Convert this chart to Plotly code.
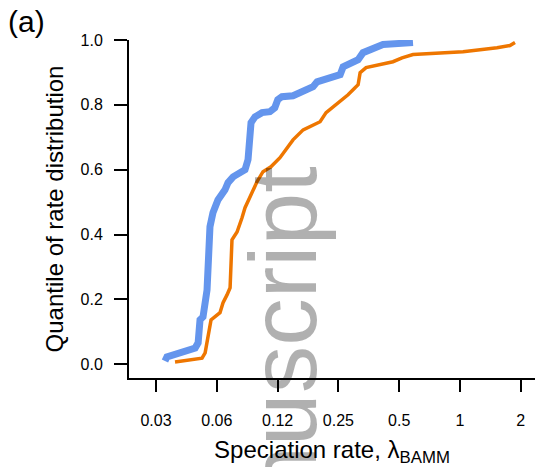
import plotly.graph_objects as go

# Blue series (speciation rate vs quantile)
blue_rate = [0.0346, 0.0354, 0.0488, 0.0505, 0.0516, 0.0534, 0.0559, 0.0565, 0.0578, 0.0598,
             0.0633, 0.0686, 0.0710, 0.0752, 0.0814, 0.0862, 0.0892, 0.0913, 0.0923, 0.0966,
             0.1046, 0.1144, 0.1210, 0.1252, 0.1313, 0.1490, 0.1615, 0.1873, 0.1960, 0.2550,
             0.2637, 0.2921, 0.3130, 0.3309, 0.3710, 0.4157, 0.5852]
blue_q = [0.010, 0.023, 0.050, 0.066, 0.137, 0.146, 0.229, 0.313, 0.424, 0.467,
          0.507, 0.538, 0.560, 0.578, 0.590, 0.600, 0.631, 0.692, 0.745, 0.763,
          0.776, 0.779, 0.791, 0.816, 0.825, 0.828, 0.840, 0.856, 0.871, 0.893,
          0.917, 0.930, 0.939, 0.961, 0.976, 0.986, 0.992]

# Orange series
orange_rate = [0.0388, 0.0528, 0.0547, 0.0565, 0.0585, 0.0648, 0.0671, 0.0702, 0.0727, 0.0743,
               0.0787, 0.0833, 0.0862, 0.0923, 0.0966, 0.0988, 0.1058, 0.1158, 0.1284, 0.1391,
               0.1490, 0.1672, 0.2029, 0.2172, 0.2495, 0.2790, 0.3022, 0.3130, 0.3202, 0.3426,
               0.4658, 0.5164, 0.5852, 1.035, 1.525, 1.768, 1.872]
orange_q = [0.007, 0.019, 0.035, 0.090, 0.137, 0.159, 0.190, 0.214, 0.236, 0.384,
            0.408, 0.452, 0.483, 0.523, 0.554, 0.563, 0.594, 0.609, 0.637, 0.668,
            0.692, 0.723, 0.748, 0.776, 0.807, 0.831, 0.853, 0.862, 0.899, 0.915,
            0.933, 0.945, 0.955, 0.964, 0.976, 0.983, 0.992]

x_tickvals = [2 ** k for k in range(-5, 2)]
x_ticktext = ["0.03", "0.06", "0.12", "0.25", "0.5", "1", "2"]
y_tickvals = [0.0, 0.2, 0.4, 0.6, 0.8, 1.0]
y_ticktext = ["0.0", "0.2", "0.4", "0.6", "0.8", "1.0"]

FONT = "Liberation Sans, Arial, Helvetica, sans-serif"

fig = go.Figure()
fig.add_trace(go.Scatter(x=orange_rate, y=orange_q, mode="lines",
                         line=dict(color="#EE7600", width=3.5), showlegend=False))
fig.add_trace(go.Scatter(x=blue_rate, y=blue_q, mode="lines",
                         line=dict(color="#6495ED", width=7), showlegend=False))

fig.update_layout(
    width=535, height=467,
    margin=dict(l=129, r=0, t=40, b=89, autoexpand=False),
    plot_bgcolor="white", paper_bgcolor="white",
    font=dict(family=FONT, color="black", size=16),
    xaxis=dict(type="log", range=[-1.639, 0.3714],
               tickvals=x_tickvals, ticktext=x_ticktext,
               ticks="outside", ticklen=12, tickwidth=1.5, tickcolor="black",
               showline=True, linecolor="black", linewidth=2,
               showgrid=False, zeroline=False,
               tickfont=dict(size=16), ticklabelstandoff=15,
               title=dict(text="Speciation rate, λ<sub>BAMM</sub>",
                          font=dict(size=24), standoff=14)),
    yaxis=dict(range=[-0.0423, 1.0],
               tickvals=y_tickvals, ticktext=y_ticktext,
               ticks="outside", ticklen=13, tickwidth=1.5, tickcolor="black",
               showline=True, linecolor="black", linewidth=2,
               showgrid=False, zeroline=False,
               tickfont=dict(size=16), ticklabelstandoff=8,
               title=dict(text="Quantile of rate distribution",
                          font=dict(size=24), standoff=10)),
    annotations=[
        dict(text="(a)", xref="paper", yref="paper", x=(6 - 129) / 406, y=1 + (40 - 3) / 338,
             xanchor="left", yanchor="top", showarrow=False,
             font=dict(size=30, family=FONT, color="black")),
        dict(text="Manuscript", xref="paper", yref="paper",
             x=(283 - 129) / 406, y=(378 - 399) / 338,
             xanchor="center", yanchor="middle", textangle=-90, showarrow=False,
             font=dict(size=95, family=FONT, color="rgba(0,0,0,0.31)")),
    ],
)

fig.write_html("out.html", config={"displayModeBar": False},
               post_script="document.body.style.margin='0px';")
